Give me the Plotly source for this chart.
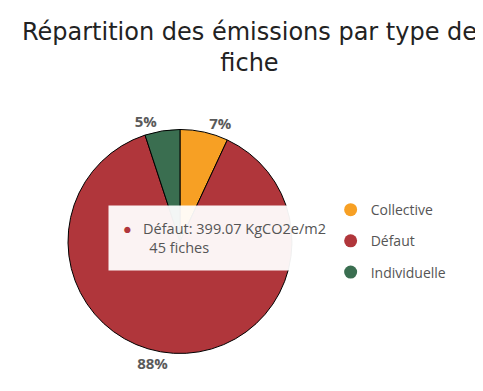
import plotly.graph_objects as go

categories = ["Collective", "Défaut", "Individuelle"]
emissions = [31.5, 399.07, 22.9]
fiches = [4, 45, 3]
colors = ["#F7A024", "#B0363B", "#3A6E50"]

title_text = "Répartition des émissions par type de<br>fiche"
tooltip_idx = 1

fig = go.Figure()
fig.add_trace(go.Pie(
    labels=categories,
    values=emissions,
    sort=False,
    direction="clockwise",
    rotation=0,
    marker=dict(colors=colors, line=dict(color="#000000", width=1)),
    textposition="outside",
    texttemplate="%{percent:.0%}",
    textfont=dict(family="Open Sans", size=15, color="#5a5a5a", weight="bold"),
    showlegend=False,
    domain=dict(x=[0.1242, 0.588], y=[0.1164, 0.6893]),
))

for i, (cat, col) in enumerate(zip(categories, colors)):
    fig.add_trace(go.Scatter(
        x=[None], y=[None], mode="markers", name=cat,
        marker=dict(color=col, size=13, symbol="circle"),
        legendgroup=cat, showlegend=True,
    ))

tip = (f"<span style='color:{colors[tooltip_idx]}'>●</span>&nbsp;&nbsp;&nbsp;"
       f"{categories[tooltip_idx]}: {emissions[tooltip_idx]:.2f} KgCO2e/m2<br>"
       f"&nbsp;&nbsp;&nbsp;&nbsp;&nbsp;&nbsp;&nbsp;{fiches[tooltip_idx]} fiches")
fig.add_annotation(
    x=0.207, y=0.4105, xref="paper", yref="paper", xanchor="left", yanchor="middle",
    text=tip, showarrow=False, align="left", valign="middle",
    width=206, height=36,
    font=dict(family="Open Sans", size=14.5, color="#555555"),
    bgcolor="rgba(255,255,255,0.94)", borderpad=14, bordercolor="rgba(0,0,0,0)",
)

fig.update_layout(
    width=483, height=391,
    margin=dict(l=0, r=0, t=0, b=0),
    paper_bgcolor="white", plot_bgcolor="white",
    xaxis=dict(visible=False), yaxis=dict(visible=False),
    title=dict(text=title_text, x=0.5, xanchor="center", y=0.919, yref="container", yanchor="top",
               font=dict(family="DejaVu Sans", size=24, color="#222222")),
    legend=dict(x=0.668, y=0.404, xanchor="left", yanchor="middle",
                traceorder="grouped", tracegroupgap=10,
                font=dict(family="Open Sans", size=14, color="#555555")),
)

fig.write_html("out.html")
